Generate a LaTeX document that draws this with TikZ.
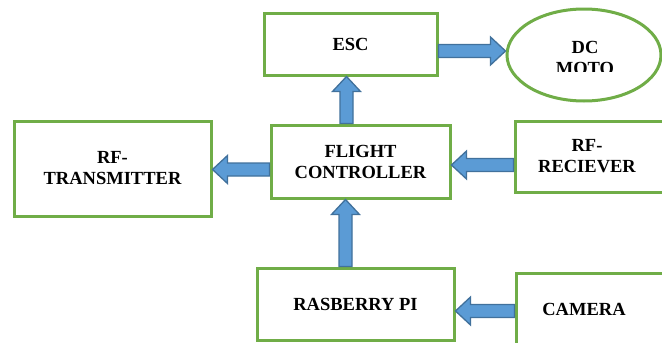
\documentclass[tikz,border=0pt]{standalone}
\usepackage{fontspec}
\setmainfont{Liberation Serif}
\usetikzlibrary{calc,shapes.geometric}
\definecolor{boxgreen}{HTML}{70AD47}
\definecolor{arrowfill}{HTML}{5B9BD5}
\definecolor{arrowline}{HTML}{41719C}
\tikzset{
  blockbox/.style={draw=boxgreen, line width=3pt, fill=white, inner sep=0pt, align=center,
    font=\fontsize{18.5}{21}\selectfont\bfseries},
  boxlabel/.style={inner sep=0pt, align=center, font=\fontsize{18.5}{21}\selectfont\bfseries},
  blockarrowstyle/.style={fill=arrowfill, draw=arrowline, line width=1.3pt, line join=miter}
}
\newcommand\blockarrow[2]{%
  \coordinate (bac) at ($(#2)!15pt!(#1)$);
  \filldraw[blockarrowstyle] ($(#1)!6.5pt!90:(#2)$) -- ($(bac)!6.5pt!-90:(#1)$) -- ($(bac)!14pt!-90:(#1)$) -- (#2) -- ($(bac)!14pt!90:(#1)$) -- ($(bac)!6.5pt!90:(#1)$) -- ($(#1)!6.5pt!-90:(#2)$) -- cycle;
}
\begin{document}
\begin{tikzpicture}[x=1pt,y=-1pt]
\clip (0,0) rectangle (662,343);
\fill[white] (0,0) rectangle (662,343);
% boxes
\node[blockbox, minimum width=173pt, minimum height=62pt] (esc) at (350.5,44) {ESC};
\node[blockbox, ellipse, minimum width=154pt, minimum height=92pt] (dc) at (584,55) {};
\begin{scope}
  \clip (500,0) rectangle (662,71.5);
  \node[boxlabel] (dct) at (585,57.5) {DC\\MOTO};
\end{scope}
\node[blockbox, minimum width=179pt, minimum height=73pt] (fc) at (360.5,161.5) {FLIGHT\\CONTROLLER};
\node[blockbox, minimum width=197pt, minimum height=95pt] (rft) at (112.5,168.5) {RF-\\TRANSMITTER};
\node[blockbox, minimum width=160pt, minimum height=71pt] (rfr) at (595,156.5) {};
\node[boxlabel] (rfrt) at (587,156.5) {RF-\\RECIEVER};
\node[blockbox, minimum width=197pt, minimum height=72pt] (rpi) at (355.5,304) {RASBERRY PI};
\node[blockbox, minimum width=160pt, minimum height=80pt] (cam) at (596,313) {};
\node[boxlabel] (camt) at (584,309) {CAMERA};
% arrows
\coordinate (a1s) at ([xshift=-14pt]fc.north);
\coordinate (a1e) at (a1s |- esc.south);
\blockarrow{a1s}{a1e}
\coordinate (a2s) at ([xshift=-10pt]rpi.north);
\coordinate (a2e) at (a2s |- fc.south);
\blockarrow{a2s}{a2e}
\coordinate (a3s) at ([yshift=-7pt]esc.east);
\coordinate (a3e) at (a3s -| dc.west);
\blockarrow{a3s}{a3e}
\coordinate (a4s) at ([yshift=-8pt]fc.west);
\coordinate (a4e) at (a4s -| rft.east);
\blockarrow{a4s}{a4e}
\coordinate (a5s) at ([yshift=-8.5pt]rfr.west);
\coordinate (a5e) at (a5s -| fc.east);
\blockarrow{a5s}{a5e}
\coordinate (a6s) at ([yshift=2pt]cam.west);
\coordinate (a6e) at (a6s -| rpi.east);
\blockarrow{a6s}{a6e}
\end{tikzpicture}
\end{document}
